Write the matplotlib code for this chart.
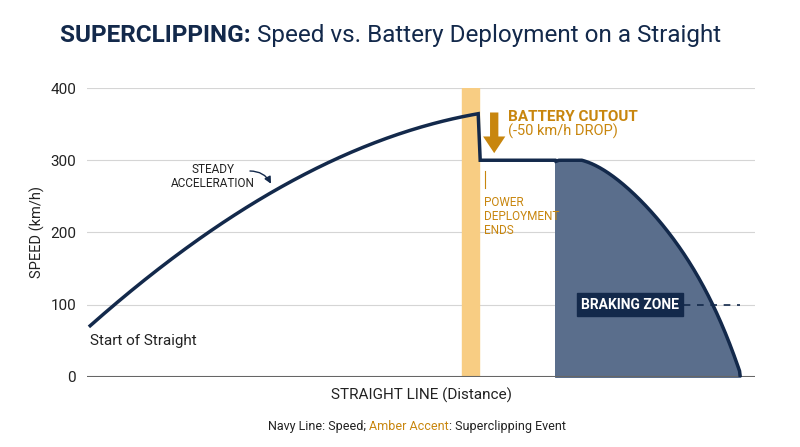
import matplotlib
matplotlib.use("Agg")
import matplotlib.pyplot as plt
import numpy as np

plt.rcParams['font.family'] = ['Roboto', 'DejaVu Sans']
NAVY = "#13294b"; AMBER = "#c8860e"; BAND = "#f8cd83"; FILL = "#5a6e8c"

# speed trace (distance in arbitrary units, speed km/h)
acc_x = [3, 26, 63, 123, 183, 243, 313, 391]
acc_y = [70, 100, 140, 200, 255, 300, 335, 365]
cut_x = [393, 468]
cut_y = [300, 300]
brk_x = [468, 490, 520, 553, 586, 610, 630, 645, 653]
brk_y = [300, 297, 285, 249, 190, 130, 97, 40, 0]

fig = plt.figure(figsize=(8, 4.47), dpi=100)
ax = fig.add_axes([0.109, 0.157, 0.835, 0.646])
ax.set_xlim(0, 668); ax.set_ylim(0, 400)

ax.axvspan(375, 392, color=BAND, zorder=1)

ca = np.polyfit(acc_x, acc_y, 3)
xa = np.linspace(acc_x[0], acc_x[-1], 200)
ya = np.polyval(ca, xa)
cb = np.polyfit(brk_x, brk_y, 4)
xb = np.linspace(brk_x[0], brk_x[-1], 300)
yb = np.clip(np.polyval(cb, xb), 0, 300)
yb[0] = 300; yb[-1] = 0
ax.fill_between(xb, 0, yb, color=FILL, zorder=2)
ax.plot(list(xa) + [cut_x[0], cut_x[1]] + list(xb), list(ya) + [cut_y[0], cut_y[1]] + list(yb),
        color=NAVY, lw=2.5, zorder=4, solid_joinstyle='miter')

for y in [100, 200, 300, 400]:
    ax.axhline(y, color="#d5d5d5", lw=0.8, zorder=0)
ax.axhline(0, color="#666666", lw=1.5, zorder=3)
for s in ax.spines.values(): s.set_visible(False)
ax.set_xticks([])
ax.set_yticks([0, 100, 200, 300, 400])
ax.tick_params(axis='y', length=0, labelsize=11, colors="#222222", pad=8)
ax.set_ylabel("SPEED (km/h)", fontsize=10.5, color="#222222")
ax.set_xlabel("STRAIGHT LINE (Distance)", fontsize=11, color="#222222", labelpad=8)

ax.text(3, 50, "Start of Straight", fontsize=11, color="#222222", va='center')
ax.text(126, 277, "STEADY\nACCELERATION", fontsize=8.5, color="#222222", ha='center', va='center', linespacing=1.1)
ax.annotate("", xy=(185, 264), xytext=(160, 285), arrowprops=dict(arrowstyle="-|>", color=NAVY, lw=1, connectionstyle="arc3,rad=-0.35"))
ax.annotate("", xy=(407, 306), xytext=(407, 370), arrowprops=dict(arrowstyle="simple,head_width=1.6,head_length=1.2,tail_width=0.6", color=AMBER, lw=0))
ax.text(421, 360, "BATTERY CUTOUT", fontsize=11, color=AMBER, fontweight='bold', va='center')
ax.text(421, 340, "(-50 km/h DROP)", fontsize=10.5, color=AMBER, va='center')
ax.plot([398, 398], [262, 285], color=AMBER, lw=0.8)
ax.text(397, 222, "POWER\nDEPLOYMENT\nENDS", fontsize=8.5, color=AMBER, va='center', linespacing=1.1)
ax.plot([490, 653], [100, 100], color=NAVY, lw=1.2, ls=(0, (4, 4)), zorder=3)
ax.text(543, 100, "BRAKING ZONE", fontsize=10, color="white", fontweight='bold', ha='center', va='center', zorder=5,
        bbox=dict(boxstyle="square,pad=0.3", fc=NAVY, ec=NAVY))

r = fig.canvas.get_renderer()
def seq(parts, x0, y, size):
    x = x0
    for txt, kw in parts:
        t = fig.text(x, y, txt, fontsize=size, va='center', **kw)
        bb = t.get_window_extent(renderer=r)
        x += bb.width / fig.bbox.width
    return x

seq([("SUPERCLIPPING: ", dict(fontweight='bold', color=NAVY)),
     ("Speed vs. Battery Deployment on a Straight", dict(color=NAVY))], 0.075, 0.92, 17.5)
seq([("Navy Line: Speed; ", dict(color="#222222")), ("Amber Accent", dict(color=AMBER)),
     (": Superclipping Event", dict(color="#222222"))], 0.335, 0.045, 9)
fig.savefig("out.png")
